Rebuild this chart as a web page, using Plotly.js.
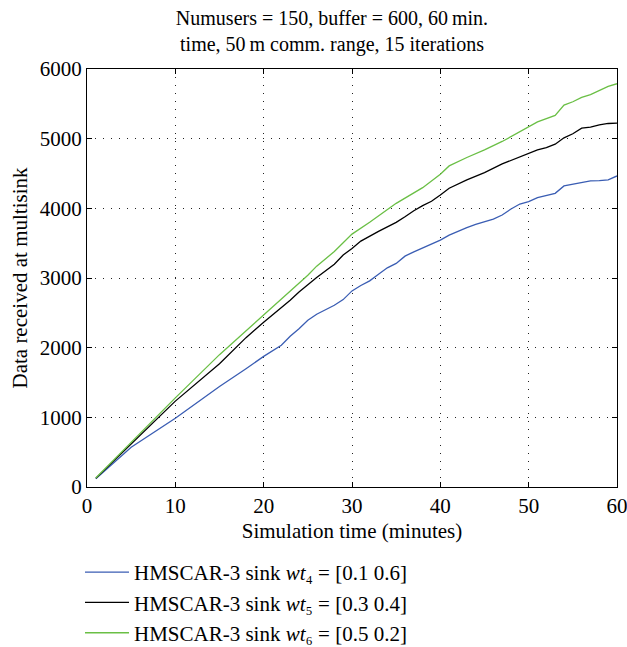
<!DOCTYPE html>
<html>
<head>
<meta charset="utf-8">
<script src="https://cdn.plot.ly/plotly-3.0.1.min.js"></script>
<style>html,body{margin:0;padding:0;background:#fff;overflow:hidden;}#chart{width:627px;height:653px;}</style>
</head>
<body>
<div id="chart"></div>
<script>
// Simulation time (minutes)
var xBlue = [1,5,10,13,15,18,20,22,23,24,25,26,28,29,30,31,32,33,34,35,36,37,38,39,40,41,42,43,44,45,46,47,48,49,50,51,52,53,54,55,56,57,58,59,60];
var yBlue = [120,570,988,1266,1444,1698,1875,2034,2163,2273,2393,2480,2609,2690,2815,2892,2959,3055,3146,3209,3314,3376,3434,3496,3544,3616,3674,3722,3770,3808,3846,3904,3990,4062,4096,4153,4182,4216,4321,4345,4379,4393,4398,4408,4465];

var xBlack = [1,5,10,15,18,20,22,23,24,25,26,28,29,30,31,33,35,36,37,38,39,40,41,43,45,47,49,50,51,52,53,54,55,56,57,58,59,60];
var yBlack = [125,620,1233,1770,2144,2365,2575,2680,2800,2905,3007,3199,3329,3424,3530,3669,3799,3880,3966,4038,4101,4192,4288,4408,4513,4638,4743,4791,4839,4873,4921,5012,5070,5151,5165,5199,5218,5223];

var xGreen = [1,5,10,15,20,22,25,26,28,30,32,35,38,40,41,43,45,47,50,51,53,54,55,56,57,58,59,60];
var yGreen = [130,640,1280,1900,2465,2690,3040,3170,3380,3630,3800,4072,4297,4489,4609,4730,4839,4960,5175,5240,5333,5482,5530,5592,5631,5693,5750,5789];

var seriesNames = [
  'HMSCAR-3 sink <i>wt</i>\u2084 = [0.1 0.6]',
  'HMSCAR-3 sink <i>wt</i>\u2085 = [0.3 0.4]',
  'HMSCAR-3 sink <i>wt</i>\u2086 = [0.5 0.2]'
];
var xTicks = [0,10,20,30,40,50,60];
var yTicks = [0,1000,2000,3000,4000,5000,6000];

var FONT = 'Liberation Serif, Times New Roman, serif';
var FS = 21;

var traces = [
  {x: xBlue, y: yBlue, name: seriesNames[0], mode: 'lines', line: {color: '#3a5db3', width: 1.3}},
  {x: xBlack, y: yBlack, name: seriesNames[1], mode: 'lines', line: {color: '#000000', width: 1.3}},
  {x: xGreen, y: yGreen, name: seriesNames[2], mode: 'lines', line: {color: '#6abf45', width: 1.3}}
];

var axisCommon = {
  showline: true, linecolor: '#000', linewidth: 1, mirror: 'ticks',
  ticks: 'inside', ticklen: 5, tickcolor: '#000',
  showgrid: true, gridcolor: '#222', griddash: '1px,7px', gridwidth: 1,
  zeroline: false, automargin: false, ticklabeloverflow: 'allow',
  tickfont: {family: FONT, size: FS, color: '#000'}
};

var layout = {
  width: 627, height: 653,
  margin: {l: 87, r: 10, t: 69, b: 0},
  paper_bgcolor: '#fff', plot_bgcolor: '#fff',
  font: {family: FONT, color: '#000', size: FS},
  title: {
    text: 'Numusers = 150, buffer = 600, 60\u2009min.<br>time, 50\u2009m comm. range, 15 iterations',
    font: {family: FONT, size: 20, color: '#000'},
    xref: 'container', x: 0.5295, xanchor: 'center',
    yref: 'container', y: 0.9619, yanchor: 'top', automargin: false
  },
  xaxis: Object.assign({}, axisCommon, {
    range: [0, 60], tickvals: xTicks, ticktext: xTicks.map(String),
    title: {text: 'Simulation time (minutes)', font: {family: FONT, size: FS, color: '#000'}, standoff: 6}
  }),
  yaxis: Object.assign({}, axisCommon, {
    range: [0, 6000], domain: [0.2842, 1], tickvals: yTicks, ticktext: yTicks.map(String),
    title: {text: 'Data received at multisink', font: {family: FONT, size: FS, color: '#000'}, standoff: 6}
  }),
  showlegend: true,
  legend: {
    x: -0.0132, xanchor: 'left', y: 0, yanchor: 'bottom',
    font: {family: FONT, size: FS, color: '#000'},
    bgcolor: 'rgba(0,0,0,0)', tracegroupgap: 0, itemwidth: 44
  }
};

Plotly.newPlot('chart', traces, layout, {staticPlot: true, displayModeBar: false});
</script>
</body>
</html>
